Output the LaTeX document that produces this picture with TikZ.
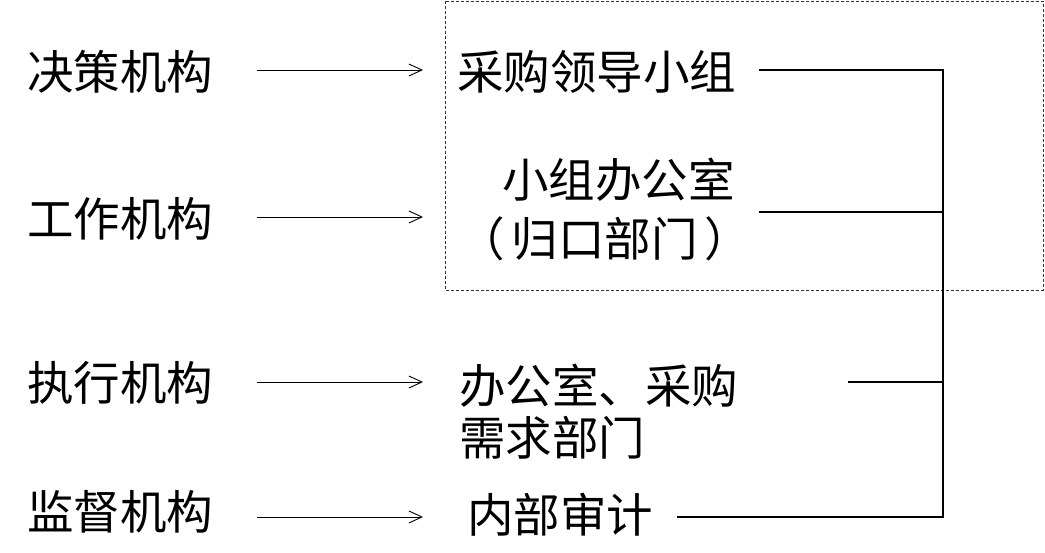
\documentclass[tikz,border=0pt]{standalone}
\usepackage{fontspec}
\setmainfont{Noto Sans CJK SC}
\usetikzlibrary{arrows.meta}

\tikzset{
  lbl/.style={anchor=base west,inner sep=0pt,font=\fontsize{46.5}{52}\selectfont},
  arr/.style={-{Straight Barb[length=13pt,width=12pt]},line width=0.9pt},
  bus/.style={line width=2pt},
  grp/.style={black!80,line width=0.8pt,dash pattern=on 3pt off 2pt}
}

\begin{document}
\begin{tikzpicture}[x=1pt,y=-1pt]
  \useasboundingbox (0,0) rectangle (1045,553);
  % dotted group round the two top units
  \draw [grp] (445,1) rectangle (1043,290);
  % left column
  \node [lbl] (jc) at (27,90) {决策机构};
  \node [lbl] (gz) at (27,237) {工作机构};
  \node [lbl] (zx) at (27,401) {执行机构};
  \node [lbl] (jd) at (27,529) {监督机构};
  % right column
  \node [lbl] (lead) at (457,90) {采购领导小组};
  \node [lbl] (off) at (502,198) {小组办公室};
  \node [lbl] (offb) at (458,257) {（\hspace{7pt}归口部门\hspace{7pt}）};
  \node [lbl] (exec) at (459,403) {办公室、采购};
  \node [lbl] (execb) at (459,455) {需求部门};
  \node [lbl] (aud) at (467,532) {内部审计};
  % arrows
  \coordinate (a1) at (257,70);
  \coordinate (a2) at (257,217);
  \coordinate (a3) at (257,382);
  \coordinate (a4) at (257,517);
  \coordinate (t) at (423,0);
  \draw [arr] (a1) -- (a1 -| t);
  \draw [arr] (a2) -- (a2 -| t);
  \draw [arr] (a3) -- (a3 -| t);
  \draw [arr] (a4) -- (a4 -| t);
  % bracket on the right
  \coordinate (b1) at (759,70);
  \coordinate (b2) at (759,212);
  \coordinate (b3) at (848,382);
  \coordinate (b4) at (677,517);
  \coordinate (bx) at (943,0);
  \draw [bus] (b1) -- (b1 -| bx) -- (b4 -| bx) -- (b4);
  \draw [bus] (b2) -- (b2 -| bx);
  \draw [bus] (b3) -- (b3 -| bx);
\end{tikzpicture}
\end{document}
